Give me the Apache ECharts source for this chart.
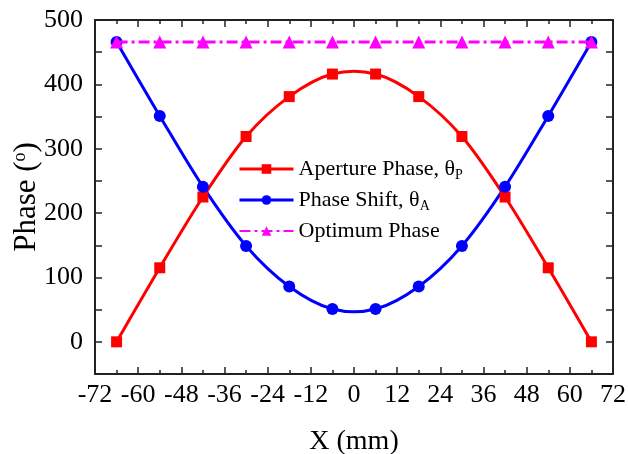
<!DOCTYPE html>
<html>
<head>
<meta charset="utf-8">
<script src="https://cdn.jsdelivr.net/npm/echarts@6/dist/echarts.min.js"></script>
<style>html,body{margin:0;padding:0;background:#fff}#c{width:628px;height:454px}</style>
</head>
<body>
<div id="c"></div>
<script>
const xValues = [-66, -54, -42, -30, -18, -6, 6, 18, 30, 42, 54, 66];
const aperturePhase = [0, 115, 225, 319, 381, 416, 416, 381, 319, 225, 115, 0];
const phaseShift = [466, 351, 241, 149, 86, 51, 51, 86, 149, 241, 351, 466];
const optimumPhase = [466, 466, 466, 466, 466, 466, 466, 466, 466, 466, 466, 466];
const seriesNames = ['Aperture Phase', 'Phase Shift', 'Optimum Phase'];
const colors = ['#ff0000', '#0000ff', '#ff00ff'];

const pairs = arr => xValues.map((x, i) => [x, arr[i]]);
const FONT = 'Liberation Serif';

// Catmull-Rom spline through the data points, drawn via the axis scales
function splineSeries(values, color) {
  return {
    type: 'custom', name: 'curve-' + color, data: pairs(values), z: 2,
    silent: true,
    renderItem: function (params, api) {
      const i = params.dataIndex;
      const n = xValues.length;
      if (i >= n - 1) return null;
      const P = k => api.coord([xValues[Math.max(0, Math.min(n - 1, k))], values[Math.max(0, Math.min(n - 1, k))]]);
      const p0 = P(i - 1), p1 = P(i), p2 = P(i + 1), p3 = P(i + 2);
      return {
        type: 'bezierCurve',
        shape: {
          x1: p1[0], y1: p1[1], x2: p2[0], y2: p2[1],
          cpx1: p1[0] + (p2[0] - p0[0]) / 6, cpy1: p1[1] + (p2[1] - p0[1]) / 6,
          cpx2: p2[0] - (p3[0] - p1[0]) / 6, cpy2: p2[1] - (p3[1] - p1[1]) / 6
        },
        style: { stroke: color, lineWidth: 3, fill: null, lineCap: 'round' }
      };
    }
  };
}

const axisCommon = {
  type: 'value',
  axisLine: { show: true, onZero: false, lineStyle: { color: '#222', width: 2 } },
  axisTick: { show: true, inside: true, length: 7, lineStyle: { color: '#222', width: 1.5 } },
  minorTick: { show: true, splitNumber: 2, length: 4, lineStyle: { color: '#222', width: 1.5 } },
  splitLine: { show: false },
  minorSplitLine: { show: false }
};
const labelStyle = { fontFamily: FONT, fontSize: 26, color: '#000' };

const chart = echarts.init(document.getElementById('c'));
chart.setOption({
  animation: false,
  backgroundColor: '#fff',
  grid: { left: 95, right: 15, top: 20, bottom: 80, containLabel: false, outerBoundsMode: 'none' },
  legend: {
    left: 238, top: 158, orient: 'vertical', itemGap: 7, padding: 0,
    itemWidth: 54, itemHeight: 12,
    textStyle: {
      fontFamily: FONT, fontSize: 22, color: '#000',
      rich: {
        n: { fontFamily: FONT, fontSize: 22, color: '#000' },
        s: { fontFamily: FONT, fontSize: 14, color: '#000', verticalAlign: 'bottom', padding: [12, 0, 0, 0] }
      }
    },
    formatter: function (name) {
      if (name === seriesNames[0]) return '{n|Aperture Phase, θ}{s|P}';
      if (name === seriesNames[1]) return '{n|Phase Shift, θ}{s|A}';
      return '{n|Optimum Phase}';
    },
    data: [
      { name: seriesNames[0], lineStyle: { color: colors[0], width: 3, opacity: 1 } },
      { name: seriesNames[1], lineStyle: { color: colors[1], width: 3, opacity: 1 } },
      { name: seriesNames[2] }
    ]
  },
  xAxis: [
    Object.assign({}, axisCommon, {
      min: -72, max: 72, interval: 12, position: 'bottom',
      name: 'X (mm)', nameLocation: 'middle', nameGap: 54, nameMoveOverlap: false,
      nameTextStyle: { fontFamily: FONT, fontSize: 28, color: '#000' },
      axisLabel: Object.assign({ margin: 8, hideOverlap: false }, labelStyle)
    }),
    Object.assign({}, axisCommon, {
      min: -72, max: 72, interval: 12, position: 'top',
      axisLabel: { show: false }
    })
  ],
  yAxis: [
    Object.assign({}, axisCommon, {
      min: -50, max: 500, interval: 50, position: 'left',
      name: '{n|Phase (}{p|o}{n|)}', nameLocation: 'middle', nameGap: 53, nameMoveOverlap: false,
      nameTextStyle: {
        fontFamily: FONT, fontSize: 31, color: '#000',
        rich: {
          n: { fontFamily: FONT, fontSize: 31, color: '#000' },
          p: { fontFamily: FONT, fontSize: 18, color: '#000', verticalAlign: 'top', padding: [0, 0, 12, 0] }
        }
      },
      minorTick: { show: false },
      axisLabel: Object.assign({
        margin: 12,
        formatter: v => (v % 100 === 0 ? String(v) : '')
      }, labelStyle)
    }),
    Object.assign({}, axisCommon, {
      min: -50, max: 500, interval: 50, position: 'right',
      minorTick: { show: false },
      axisLabel: { show: false }
    })
  ],
  series: [
    splineSeries(aperturePhase, colors[0]),
    splineSeries(phaseShift, colors[1]),
    {
      name: seriesNames[0], type: 'line', data: pairs(aperturePhase), z: 3,
      symbol: 'rect', symbolSize: 11,
      lineStyle: { color: colors[0], width: 0, opacity: 0 }, itemStyle: { color: colors[0] }
    },
    {
      name: seriesNames[1], type: 'line', data: pairs(phaseShift), z: 3,
      symbol: 'circle', symbolSize: 12,
      lineStyle: { color: colors[1], width: 0, opacity: 0 }, itemStyle: { color: colors[1] }
    },
    {
      name: seriesNames[2], type: 'line', data: pairs(optimumPhase), z: 4,
      symbol: 'triangle', symbolSize: 13,
      lineStyle: { color: colors[2], width: 3, type: [11, 4, 3, 4] }, itemStyle: { color: colors[2] }
    }
  ]
});
</script>
</body>
</html>
